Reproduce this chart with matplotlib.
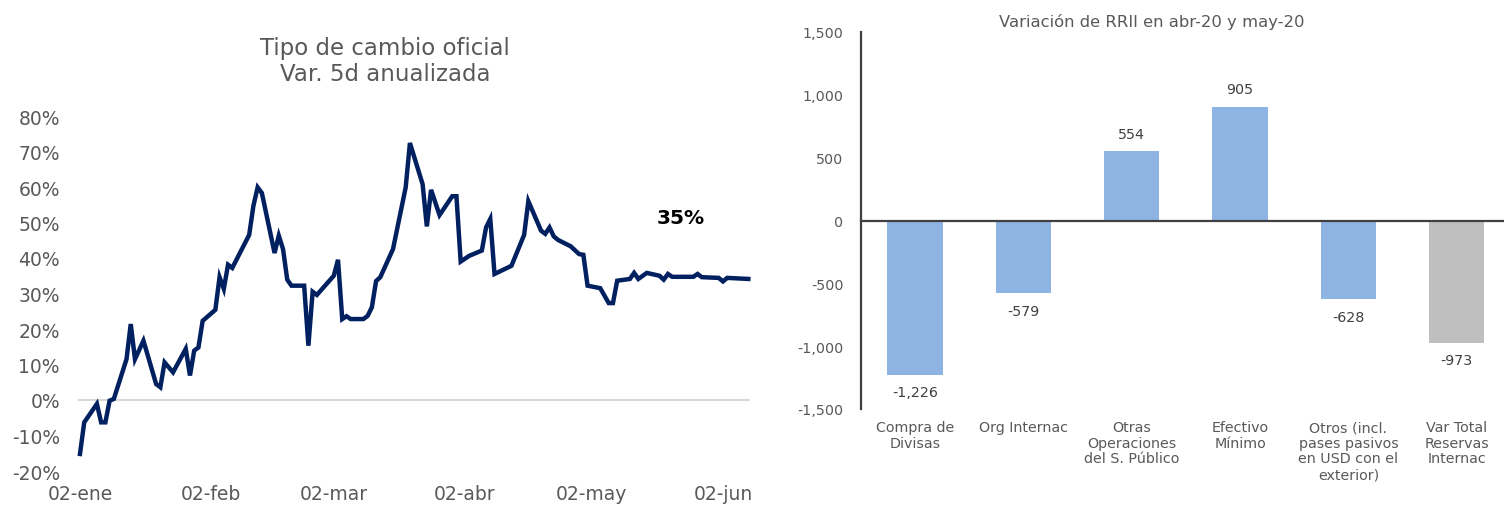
import matplotlib
matplotlib.use("Agg")
import matplotlib.pyplot as plt
import matplotlib.dates as mdates
import numpy as np
import pandas as pd

# ---------------- Data: left chart ----------------
fx_dates = [
    "2020-01-02", "2020-01-03", "2020-01-06", "2020-01-07", "2020-01-08", "2020-01-09",
    "2020-01-10", "2020-01-13", "2020-01-14", "2020-01-15", "2020-01-17", "2020-01-20",
    "2020-01-21", "2020-01-22", "2020-01-24", "2020-01-27", "2020-01-28", "2020-01-29",
    "2020-01-30", "2020-01-31", "2020-02-03", "2020-02-04", "2020-02-05", "2020-02-06",
    "2020-02-07", "2020-02-11", "2020-02-12", "2020-02-13", "2020-02-14", "2020-02-17",
    "2020-02-18", "2020-02-19", "2020-02-20", "2020-02-21", "2020-02-24", "2020-02-25",
    "2020-02-26", "2020-02-27", "2020-03-02", "2020-03-03", "2020-03-04", "2020-03-05",
    "2020-03-06", "2020-03-09", "2020-03-10", "2020-03-11", "2020-03-12", "2020-03-13",
    "2020-03-16", "2020-03-19", "2020-03-20", "2020-03-23", "2020-03-24", "2020-03-25",
    "2020-03-27", "2020-03-30", "2020-03-31", "2020-04-01", "2020-04-03", "2020-04-06",
    "2020-04-07", "2020-04-08", "2020-04-09", "2020-04-13", "2020-04-16", "2020-04-17",
    "2020-04-20", "2020-04-21", "2020-04-22", "2020-04-23", "2020-04-24", "2020-04-27",
    "2020-04-29", "2020-04-30", "2020-05-01", "2020-05-04", "2020-05-06", "2020-05-07",
    "2020-05-08", "2020-05-11", "2020-05-12", "2020-05-13", "2020-05-15", "2020-05-18",
    "2020-05-19", "2020-05-20", "2020-05-21", "2020-05-26", "2020-05-27", "2020-05-28",
    "2020-06-01", "2020-06-02", "2020-06-03", "2020-06-08",
]
fx_values = [
    -15.2, -6.3, -1.1, -6.3, -6.3, -0.2,
    0.3, 11.5, 21.4, 11.5, 16.7, 4.5,
    3.6, 10.6, 7.8, 14.4, 6.9, 13.9,
    14.8, 22.3, 25.4, 34.6, 31.3, 38.1,
    37.2, 46.5, 54.7, 59.9, 58.3, 41.4,
    46.3, 42.5, 33.9, 32.2, 32.2, 15.3,
    30.5, 29.6, 35.0, 39.5, 22.8, 23.6,
    22.8, 22.8, 23.7, 26.1, 33.5, 34.6,
    42.5, 59.9, 72.4, 60.8, 48.9, 59.2,
    52.1, 57.4, 57.4, 39.0, 40.6, 42.1,
    48.6, 51.0, 35.5, 37.8, 46.5, 56.0,
    47.7, 46.8, 48.6, 46.1, 45.1, 43.3,
    41.1, 40.9, 32.2, 31.5, 27.3, 27.3,
    33.6, 34.1, 35.8, 34.1, 35.8, 35.0,
    33.9, 35.5, 34.7, 34.7, 35.5, 34.6,
    34.4, 33.4, 34.4, 34.1,
]
fx_title = "Tipo de cambio oficial\nVar. 5d anualizada"
fx_tick_dates = ["2020-01-02", "2020-02-02", "2020-03-02", "2020-04-02", "2020-05-02", "2020-06-02"]
fx_tick_labels = ["02-ene", "02-feb", "02-mar", "02-abr", "02-may", "02-jun"]
fx_yticks = [-20, -10, 0, 10, 20, 30, 40, 50, 60, 70, 80]
fx_annotation = "35%"
fx_annotation_pos = ("2020-05-23", 51.5)

# ---------------- Data: right chart ----------------
rr_categories = [
    "Compra de\nDivisas",
    "Org Internac",
    "Otras\nOperaciones\ndel S. Público",
    "Efectivo\nMínimo",
    "Otros (incl.\npases pasivos\nen USD con el\nexterior)",
    "Var Total\nReservas\nInternac",
]
rr_values = [-1226, -579, 554, 905, -628, -973]
rr_colors = ["#8EB4E3", "#8EB4E3", "#8EB4E3", "#8EB4E3", "#8EB4E3", "#BFBFBF"]
rr_title = "Variación de RRII en abr-20 y may-20"
rr_yticks = [-1500, -1000, -500, 0, 500, 1000, 1500]

# ---------------- Figure ----------------
W, H = 1504, 506
fig = plt.figure(figsize=(W / 100, H / 100), dpi=100)
plt.rcParams["font.family"] = ["DejaVu Sans"]

GRAY = "#595959"
DARK = "#404040"


def px_axes(x0, x1, ytop, ybot):
    return [x0 / W, 1 - ybot / H, (x1 - x0) / W, (ybot - ytop) / H]


# Left chart
ax1 = fig.add_axes(px_axes(78, 750, 117, 472))
d = pd.to_datetime(fx_dates)
ax1.plot(d, np.array(fx_values) / 100.0, color="#002060", lw=3.2,
         solid_joinstyle="miter", clip_on=False, zorder=3)
start = pd.Timestamp(fx_dates[0])
ax1.set_xlim(mdates.date2num(start) - 0.47, mdates.date2num(start) + 158.4)
ax1.set_ylim(-0.2, 0.8)
ax1.axhline(0, color="#D9D9D9", lw=1.5, zorder=1)
ax1.set_yticks(np.array(fx_yticks) / 100.0)
ax1.set_yticklabels([f"{v}%" for v in fx_yticks])
ax1.set_xticks(pd.to_datetime(fx_tick_dates))
ax1.set_xticklabels(fx_tick_labels)
ax1.tick_params(axis="y", length=0, pad=13, labelsize=13.5, labelcolor=GRAY)
ax1.tick_params(axis="x", length=0, pad=9.5, labelsize=13.5, labelcolor=GRAY)
for s in ax1.spines.values():
    s.set_visible(False)
ax1.text(pd.Timestamp(fx_annotation_pos[0]), fx_annotation_pos[1] / 100.0, fx_annotation,
         ha="center", va="center", fontsize=14.5, fontweight="bold", color="black")
fig.text(385 / W, 1 - 61.5 / H, fx_title, ha="center", va="center",
         fontsize=16.5, color=GRAY, linespacing=1.2)

# Right chart
ax2 = fig.add_axes(px_axes(860.7, 1511, 33, 410))
x = np.arange(len(rr_categories))
ax2.bar(x, rr_values, width=0.51, color=rr_colors, zorder=2)
ax2.set_xlim(-0.5, len(rr_categories) - 0.5)
ax2.set_ylim(-1500, 1500)
ax2.set_yticks(rr_yticks)
ax2.set_yticklabels([f"{v:,}" for v in rr_yticks])
ax2.set_xticks(x)
ax2.set_xticklabels(rr_categories, linespacing=1.15)
ax2.tick_params(axis="y", length=0, pad=12.5, labelsize=10.3, labelcolor=GRAY)
ax2.tick_params(axis="x", length=0, pad=8, labelsize=10.3, labelcolor=GRAY)
for k in ["top", "right", "bottom"]:
    ax2.spines[k].set_visible(False)
ax2.spines["left"].set_color(DARK)
ax2.spines["left"].set_linewidth(1.6)
ax2.axhline(0, color=DARK, lw=1.6, zorder=3, clip_on=False)
for xi, v in zip(x, rr_values):
    off = 12.5 if v > 0 else -12.5
    ax2.annotate(f"{v:,}", (xi, v), xytext=(0, off), textcoords="offset points",
                 ha="center", va="center", fontsize=10.3, color=DARK)
fig.text(1152 / W, 1 - 21.7 / H, rr_title, ha="center", va="center",
         fontsize=11.8, color=GRAY)

fig.savefig("out.png", dpi=100)
